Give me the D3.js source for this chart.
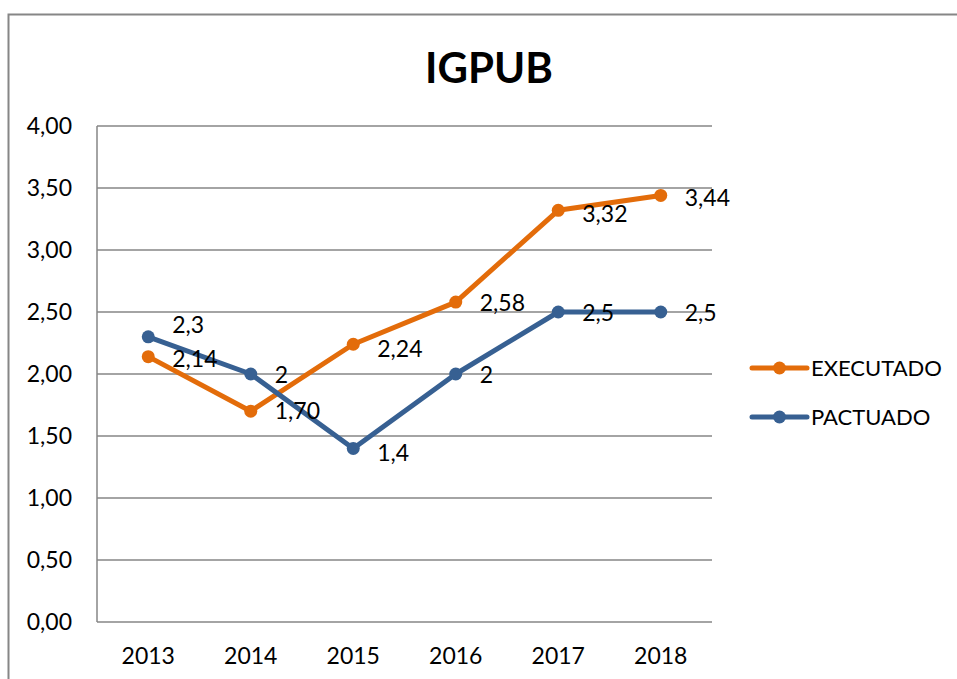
<!DOCTYPE html>
<html>
<head>
<meta charset="utf-8">
<script src="https://cdn.jsdelivr.net/npm/d3@7"></script>
<style>
  body { margin: 0; background: #fff; }
  svg { display: block; font-family: Lato, "Open Sans", sans-serif; }
</style>
</head>
<body>
<div id="chart"></div>
<script>
// data
var years = ["2013", "2014", "2015", "2016", "2017", "2018"];
var executado = [2.14, 1.70, 2.24, 2.58, 3.32, 3.44];
var executadoLabels = ["2,14", "1,70", "2,24", "2,58", "3,32", "3,44"];
var pactuado = [2.3, 2, 1.4, 2, 2.5, 2.5];
var pactuadoLabels = ["2,3", "2", "1,4", "2", "2,5", "2,5"];
var yTicks = [0, 0.5, 1, 1.5, 2, 2.5, 3, 3.5, 4];
var seriesNames = ["EXECUTADO", "PACTUADO"];
var seriesColors = ["#E36C0A", "#376092"];

var width = 957, height = 679;
var plotLeft = 97, plotRight = 712, plotTop = 126, plotBottom = 622;
var fontSize = "23px";

var svg = d3.select("#chart").append("svg")
  .attr("width", width)
  .attr("height", height);

// outer chart frame (runs off the picture on right and bottom)
svg.append("rect")
  .attr("x", 8.5).attr("y", 14.5)
  .attr("width", 1000).attr("height", 1000)
  .style("fill", "none")
  .style("stroke", "#868686")
  .style("stroke-width", 2);

svg.append("text")
  .attr("x", 489).attr("y", 83)
  .attr("text-anchor", "middle")
  .style("font-size", "42px")
  .style("font-weight", "bold")
  .text("IGPUB");

var x = d3.scaleBand().domain(years).range([plotLeft, plotRight]);
var y = d3.scaleLinear().domain([0, 4]).range([plotBottom, plotTop]);

// gridlines
svg.append("g").selectAll("line")
  .data(yTicks)
  .enter().append("line")
  .attr("x1", plotLeft).attr("x2", plotRight)
  .attr("y1", d => y(d)).attr("y2", d => y(d))
  .style("stroke", "#868686")
  .style("stroke-width", 1.5);

// left axis line
svg.append("line")
  .attr("x1", plotLeft).attr("x2", plotLeft)
  .attr("y1", plotTop).attr("y2", plotBottom)
  .style("stroke", "#868686")
  .style("stroke-width", 1.5);

// y tick labels
svg.append("g").selectAll("text")
  .data(yTicks)
  .enter().append("text")
  .attr("x", 72)
  .attr("y", d => y(d))
  .attr("dy", "0.36em")
  .attr("text-anchor", "end")
  .style("font-size", fontSize)
  .text(d => d3.format(".2f")(d).replace(".", ","));

// x labels
svg.append("g").selectAll("text")
  .data(years)
  .enter().append("text")
  .attr("x", d => x(d) + x.bandwidth() / 2)
  .attr("y", 656)
  .attr("dy", "0.36em")
  .attr("text-anchor", "middle")
  .style("font-size", fontSize)
  .text(d => d);

var line = d3.line()
  .x((d, i) => x(years[i]) + x.bandwidth() / 2)
  .y(d => y(d));

// shift = small vertical nudges of the data labels, like in the original
var allSeries = [
  { values: executado, labels: executadoLabels, shift: [2, 0, 4, 1, 3, 2] },
  { values: pactuado, labels: pactuadoLabels, shift: [-12, 1, 4, 1, 1, 1] }
];

allSeries.forEach(function(s, k) {
  var g = svg.append("g");
  g.append("path")
    .datum(s.values)
    .attr("d", line)
    .style("fill", "none")
    .style("stroke", seriesColors[k])
    .style("stroke-width", 5)
    .style("stroke-linejoin", "round");
  g.selectAll("circle")
    .data(s.values)
    .enter().append("circle")
    .attr("cx", (d, i) => x(years[i]) + x.bandwidth() / 2)
    .attr("cy", d => y(d))
    .attr("r", 6.5)
    .style("fill", seriesColors[k]);
});

allSeries.forEach(function(s, k) {
  svg.append("g").selectAll("text")
    .data(s.values)
    .enter().append("text")
    .attr("x", (d, i) => x(years[i]) + x.bandwidth() / 2 + 24)
    .attr("y", (d, i) => y(d) + s.shift[i])
    .attr("dy", "0.36em")
    .style("font-size", fontSize)
    .text((d, i) => s.labels[i]);
});

// legend
var legend = svg.append("g").selectAll("g")
  .data(seriesNames)
  .enter().append("g")
  .attr("transform", (d, i) => "translate(0," + (368 + i * 49) + ")");
legend.append("line")
  .attr("x1", 752).attr("x2", 807)
  .style("stroke", (d, i) => seriesColors[i])
  .style("stroke-width", 5)
  .style("stroke-linecap", "round");
legend.append("circle")
  .attr("cx", 779.5).attr("r", 6.5)
  .style("fill", (d, i) => seriesColors[i]);
legend.append("text")
  .attr("x", 811)
  .attr("dy", "0.36em")
  .style("font-size", "22px")
  .text(d => d);
</script>
</body>
</html>
